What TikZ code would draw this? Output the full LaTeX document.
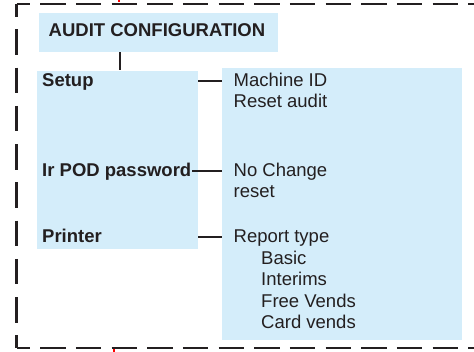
\documentclass[tikz,border=0pt]{standalone}
\usepackage{fontspec}
\setmainfont{Liberation Sans}
\definecolor{boxblue}{HTML}{D4EDFA}
\definecolor{ink}{HTML}{231F20}
\begin{document}
\begin{tikzpicture}[x=1pt,y=-1pt,
  fillbox/.style={fill=boxblue,draw=none},
  txt/.style={anchor=base west,inner sep=0pt,text=ink,font=\fontsize{18.5}{21.5}\selectfont},
  btxt/.style={txt,font=\fontsize{18.5}{21.5}\selectfont\bfseries},
  conn/.style={draw=ink,line width=2pt},
  border/.style={draw=ink,line width=2.4pt}]
\useasboundingbox (0,0) rectangle (474,352);
% dashed frame
\draw[border,dash pattern=on 25.5pt off 10.17pt,dash phase=11.9pt] (16.5,4) -- (480,4);
\draw[border,dash pattern=on 25.5pt off 10.17pt,dash phase=11.9pt] (16.5,348) -- (480,348);
\draw[border,dash pattern=on 25.5pt off 12.75pt,dash phase=12.75pt] (16.5,4) -- (16.5,348);
% tiny red marks
\draw[red,line width=1.2pt] (119,0) -- (119,1.8);
\draw[red,line width=1.2pt] (114,349) -- (114,352);
% boxes
\node[fillbox,minimum width=239pt,minimum height=39pt,inner sep=0pt,anchor=north west] (title) at (39,13) {};
\node[fillbox,minimum width=161pt,minimum height=178pt,inner sep=0pt,anchor=north west] (left) at (37,70.5) {};
\node[fillbox,minimum width=240pt,minimum height=272pt,inner sep=0pt,anchor=north west] (right) at (222,68) {};
% texts
\node[btxt] (t) at (48.5,36.5) {AUDIT CONFIGURATION};
\node[btxt] (setup) at (42,87) {Setup};
\node[btxt] (irpod) at (42,177) {Ir POD password};
\node[btxt] (printer) at (42,242.5) {Printer};
\node[txt] (mid) at (233.5,87) {Machine ID};
\node[txt] (rsa) at (233.5,108) {Reset audit};
\node[txt] (noch) at (233.5,177) {No Change};
\node[txt] (rst) at (233.5,198) {reset};
\node[txt] (rep) at (233.5,243) {Report type};
\node[txt] (basic) at (261,264.5) {Basic};
\node[txt] (inter) at (261,286) {Interims};
\node[txt] (free) at (261,307.5) {Free Vends};
\node[txt] (card) at (261,329) {Card vends};
% connectors
\coordinate (c0) at (120,0);
\draw[conn] (title.south -| c0) -- (left.north -| c0);
\coordinate (r1) at (0,81.3);
\coordinate (r2) at (0,170.7);
\coordinate (r3) at (0,236.7);
\draw[conn] (left.east |- r1) -- (right.west |- r1);
\draw[conn] (irpod.east |- r2) ++(1,0) -- (right.west |- r2);
\draw[conn] (left.east |- r3) -- (right.west |- r3);
\end{tikzpicture}
\end{document}
